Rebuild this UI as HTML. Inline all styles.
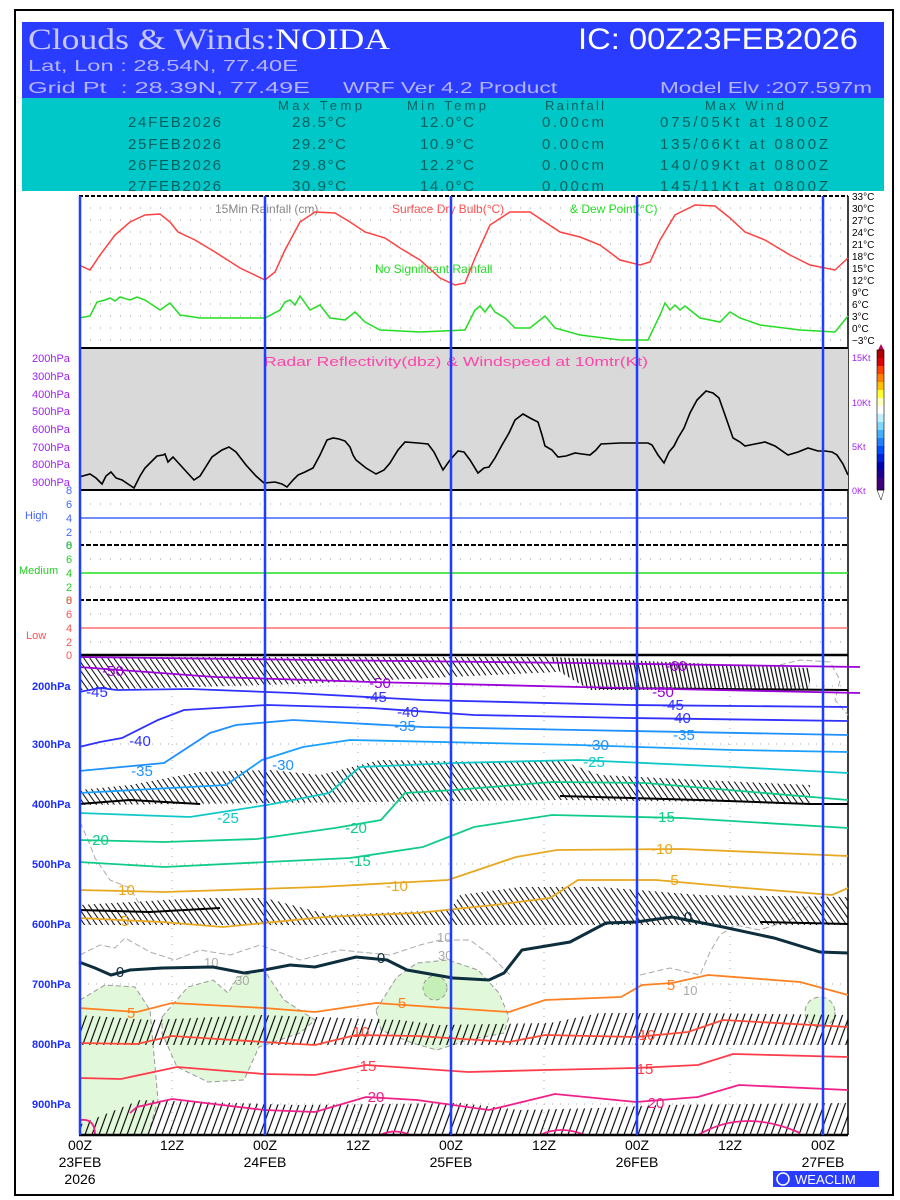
<!DOCTYPE html>
<html><head><meta charset="utf-8"><style>
html,body{margin:0;padding:0;background:#fff;width:900px;height:1200px;overflow:hidden}
svg{display:block}
text{font-family:"Liberation Sans",sans-serif}
</style></head><body>
<svg width="900" height="1200" viewBox="0 0 900 1200" xmlns="http://www.w3.org/2000/svg">
<defs>
<pattern id="bs" patternUnits="userSpaceOnUse" width="6" height="12" patternTransform="skewX(35)"><line x1="1" y1="0" x2="1" y2="12" stroke="#000" stroke-width="1.2"/></pattern>
<pattern id="bv" patternUnits="userSpaceOnUse" width="4" height="12" patternTransform="skewX(12)"><line x1="1" y1="0" x2="1" y2="12" stroke="#000" stroke-width="1.2"/></pattern>
<pattern id="bf" patternUnits="userSpaceOnUse" width="7" height="12" patternTransform="skewX(-20)"><line x1="1" y1="0" x2="1" y2="12" stroke="#000" stroke-width="1.2"/></pattern>
</defs>
<rect x="15" y="10" width="878" height="1185" fill="none" stroke="#000" stroke-width="2"/>
<rect x="22" y="22" width="862" height="76" fill="#2a3cff"/>
<text x="28" y="49" font-size="30" fill="#c8c8ff" style="font-family:'Liberation Serif',serif" textLength="362" lengthAdjust="spacingAndGlyphs">Clouds &amp; Winds:<tspan fill="#fff">NOIDA</tspan></text>
<text x="578" y="49" font-size="30" fill="#fff" textLength="280" lengthAdjust="spacingAndGlyphs">IC: 00Z23FEB2026</text>
<text x="28" y="71" font-size="16" fill="#b4b4ff" textLength="270" lengthAdjust="spacingAndGlyphs">Lat, Lon : 28.54N, 77.40E</text>
<text x="28" y="93" font-size="16" fill="#b4b4ff" xml:space="preserve" textLength="282" lengthAdjust="spacingAndGlyphs">Grid Pt  : 28.39N, 77.49E</text>
<text x="343" y="93" font-size="16" fill="#b4b4ff" textLength="214" lengthAdjust="spacingAndGlyphs">WRF Ver 4.2 Product</text>
<text x="660" y="93" font-size="16" fill="#b4b4ff" textLength="212" lengthAdjust="spacingAndGlyphs">Model Elv :207.597m</text>
<rect x="22" y="98" width="862" height="93" fill="#00c8c8"/>
<g font-size="15" fill="#006060" lengthAdjust="spacingAndGlyphs">
<text x="278" y="110" font-size="13" textLength="84">Max Temp</text><text x="407" y="110" font-size="13" textLength="79">Min Temp</text><text x="545" y="110" font-size="13" textLength="59">Rainfall</text><text x="705" y="110" font-size="13" textLength="79">Max Wind</text>
<text x="128" y="127" textLength="93">24FEB2026</text><text x="292" y="127" textLength="54">28.5°C</text><text x="420" y="127" textLength="54">12.0°C</text><text x="542" y="127" textLength="62">0.00cm</text><text x="660" y="127" textLength="168">075/05Kt at 1800Z</text>
<text x="128" y="149" textLength="93">25FEB2026</text><text x="292" y="149" textLength="54">29.2°C</text><text x="420" y="149" textLength="54">10.9°C</text><text x="542" y="149" textLength="62">0.00cm</text><text x="660" y="149" textLength="168">135/06Kt at 0800Z</text>
<text x="128" y="170" textLength="93">26FEB2026</text><text x="292" y="170" textLength="54">29.8°C</text><text x="420" y="170" textLength="54">12.2°C</text><text x="542" y="170" textLength="62">0.00cm</text><text x="660" y="170" textLength="168">140/09Kt at 0800Z</text>
<text x="128" y="191" textLength="93">27FEB2026</text><text x="292" y="191" textLength="54">30.9°C</text><text x="420" y="191" textLength="54">14.0°C</text><text x="542" y="191" textLength="62">0.00cm</text><text x="660" y="191" textLength="168">145/11Kt at 0800Z</text>
</g>
<rect x="22" y="191" width="862" height="4" fill="#fff"/>

<g stroke="#999" stroke-width="1" stroke-dasharray="1,9">
<line x1="80" y1="208" x2="848" y2="208"/><line x1="80" y1="220" x2="848" y2="220"/><line x1="80" y1="232" x2="848" y2="232"/><line x1="80" y1="244" x2="848" y2="244"/><line x1="80" y1="256" x2="848" y2="256"/><line x1="80" y1="268" x2="848" y2="268"/><line x1="80" y1="280" x2="848" y2="280"/><line x1="80" y1="292" x2="848" y2="292"/><line x1="80" y1="304" x2="848" y2="304"/><line x1="80" y1="316" x2="848" y2="316"/><line x1="80" y1="328" x2="848" y2="328"/><line x1="80" y1="340" x2="848" y2="340"/>
</g>
<line x1="79" y1="196" x2="848" y2="196" stroke="#000" stroke-width="2" stroke-dasharray="4,2"/>
<line x1="848" y1="196" x2="848" y2="1135" stroke="#000" stroke-width="1.5"/>
<text x="215" y="213" font-size="12" fill="#888">15Min Rainfall (cm)</text>
<text x="392" y="213" font-size="12" fill="#ff5050">Surface Dry Bulb(°C)</text>
<text x="570" y="213" font-size="12" fill="#22dd22">&amp; Dew Point(°C)</text>
<text x="375" y="273" font-size="12" fill="#22dd22">No Significant Rainfall</text>
<polyline fill="none" stroke="#ff4040" stroke-width="1.5" points="79,265 90,270 100,255 115,235 130,222 145,215 160,214 170,222 178,232 195,240 215,252 240,268 265,280 275,272 285,250 300,222 315,212 335,213 350,222 365,232 385,238 400,248 420,260 440,278 455,285 465,283 475,258 490,225 510,212 530,212 545,222 560,232 580,237 600,245 620,260 640,265 650,262 660,240 675,215 695,205 715,206 730,218 745,232 765,240 790,255 810,265 835,270 848,258"/>
<polyline fill="none" stroke="#22dd22" stroke-width="1.5" points="79,318 90,316 97,302 105,300 110,298 115,301 120,297 130,300 137,297 145,300 160,310 170,303 180,315 200,318 230,318 265,318 280,310 285,302 290,300 295,305 300,296 310,310 320,305 330,318 345,320 355,312 365,322 380,330 420,332 465,330 475,310 480,306 485,312 490,305 495,312 505,318 515,328 530,328 545,316 555,328 580,335 620,340 648,340 660,315 665,303 670,310 675,305 680,310 685,306 700,318 720,322 730,312 740,318 760,325 800,330 835,332 848,316"/>
<g font-size="10" fill="#000" style="font-family:'Liberation Serif',serif">
<text x="852" y="200">33°C</text><text x="852" y="212">30°C</text><text x="852" y="224">27°C</text><text x="852" y="236">24°C</text><text x="852" y="248">21°C</text><text x="852" y="260">18°C</text><text x="852" y="272">15°C</text><text x="852" y="284">12°C</text><text x="852" y="296">9°C</text><text x="852" y="308">6°C</text><text x="852" y="320">3°C</text><text x="852" y="332">0°C</text><text x="852" y="344">−3°C</text>
</g>

<rect x="79" y="348" width="769" height="142" fill="#d9d9d9"/>
<line x1="79" y1="348" x2="848" y2="348" stroke="#000" stroke-width="2"/>
<line x1="79" y1="490" x2="848" y2="490" stroke="#000" stroke-width="2"/>
<text x="264" y="366" font-size="13" fill="#ff44aa" textLength="384" lengthAdjust="spacingAndGlyphs">Radar Reflectivity(dbz) &amp; Windspeed at 10mtr(Kt)</text>
<polyline fill="none" stroke="#000" stroke-width="1.6" points="79,477 90,474 96,478 102,484 106,476 111,472 116,478 122,480 128,484 134,488 140,476 145,468 151,462 157,456 163,455 165,454 168,462 173,457 183,468 194,480 200,476 212,457 222,450 229,447 236,452 246,465 256,476 264,483 275,482 282,484 287,487 293,480 298,475 305,472 313,468 320,455 327,440 333,438 339,439 345,441 350,447 353,455 356,460 366,468 376,474 384,470 390,463 398,450 405,442 418,443 428,444 434,452 443,470 450,460 458,451 464,452 470,460 478,473 484,468 489,467 495,458 502,445 509,433 515,420 523,414 530,418 538,422 542,435 545,446 552,450 558,457 566,456 575,453 582,454 590,455 596,450 601,444 620,443 638,443 648,443 652,445 658,455 664,463 669,452 674,446 678,438 684,428 690,413 697,400 706,391 713,393 719,398 725,415 733,438 740,442 745,446 755,444 765,442 775,446 788,455 798,452 808,448 818,451 825,451 832,452 837,455 843,464 848,475"/>
<g font-size="11" fill="#a020f0">
<text x="32" y="362">200hPa</text><text x="32" y="380">300hPa</text><text x="32" y="398">400hPa</text><text x="32" y="415">500hPa</text><text x="32" y="433">600hPa</text><text x="32" y="451">700hPa</text><text x="32" y="468">800hPa</text><text x="32" y="486">900hPa</text>
</g>
<g font-size="9" fill="#a020f0">
<text x="852" y="361">15Kt</text><text x="852" y="406">10Kt</text><text x="852" y="450">5Kt</text><text x="852" y="494">0Kt</text>
</g>
<g>
<polygon points="878,350 881,344 884,350" fill="#c00050"/>
<rect x="877" y="350" width="7" height="8" fill="#b00000"/><rect x="877" y="358" width="7" height="8" fill="#e00000"/><rect x="877" y="366" width="7" height="8" fill="#ff4000"/><rect x="877" y="374" width="7" height="8" fill="#ff8000"/><rect x="877" y="382" width="7" height="8" fill="#ffc000"/><rect x="877" y="390" width="7" height="8" fill="#ffff30"/><rect x="877" y="398" width="7" height="8" fill="#ffffc0"/><rect x="877" y="406" width="7" height="8" fill="#ffffff"/><rect x="877" y="414" width="7" height="8" fill="#c0f0ff"/><rect x="877" y="422" width="7" height="8" fill="#80d8ff"/><rect x="877" y="430" width="7" height="8" fill="#40b0ff"/><rect x="877" y="438" width="7" height="8" fill="#2080ff"/><rect x="877" y="446" width="7" height="8" fill="#0050ff"/><rect x="877" y="454" width="7" height="8" fill="#0020e0"/><rect x="877" y="462" width="7" height="8" fill="#0000b0"/><rect x="877" y="470" width="7" height="8" fill="#200090"/><rect x="877" y="478" width="7" height="12" fill="#400080"/>
<polygon points="877,490 881,500 884,490" fill="#fff" stroke="#000" stroke-width="0.5"/>
<rect x="877" y="350" width="7" height="140" fill="none" stroke="#000" stroke-width="0.6"/>
</g>

<g stroke="#999" stroke-dasharray="1,9">
<line x1="80" y1="504" x2="848" y2="504"/><line x1="80" y1="532" x2="848" y2="532"/>
<line x1="80" y1="559" x2="848" y2="559"/><line x1="80" y1="587" x2="848" y2="587"/>
<line x1="80" y1="614" x2="848" y2="614"/><line x1="80" y1="642" x2="848" y2="642"/>
</g>
<line x1="79" y1="518" x2="848" y2="518" stroke="#4466ff" stroke-width="1.5"/>
<line x1="79" y1="573" x2="848" y2="573" stroke="#22dd22" stroke-width="1.5"/>
<line x1="79" y1="628" x2="848" y2="628" stroke="#ff5050" stroke-width="1.2"/>
<line x1="79" y1="545" x2="848" y2="545" stroke="#000" stroke-width="2" stroke-dasharray="5,2"/>
<line x1="79" y1="600" x2="848" y2="600" stroke="#000" stroke-width="2" stroke-dasharray="5,2"/>
<g font-size="11">
<g fill="#4466ff"><text x="66" y="494">8</text><text x="66" y="508">6</text><text x="66" y="522">4</text><text x="66" y="536">2</text><text x="66" y="549">0</text><text x="25" y="519">High</text></g>
<g fill="#22cc22"><text x="66" y="549">8</text><text x="66" y="563">6</text><text x="66" y="577">4</text><text x="66" y="591">2</text><text x="66" y="604">0</text><text x="19" y="574">Medium</text></g>
<g fill="#ff5050"><text x="66" y="604">8</text><text x="66" y="618">6</text><text x="66" y="632">4</text><text x="66" y="646">2</text><text x="66" y="659">0</text><text x="26" y="639">Low</text></g>
</g>

<g stroke="#aaa" stroke-dasharray="1,7">
<line x1="80" y1="686" x2="848" y2="686"/><line x1="80" y1="744" x2="848" y2="744"/><line x1="80" y1="804" x2="848" y2="804"/><line x1="80" y1="864" x2="848" y2="864"/><line x1="80" y1="924" x2="848" y2="924"/><line x1="80" y1="984" x2="848" y2="984"/><line x1="80" y1="1044" x2="848" y2="1044"/><line x1="80" y1="1104" x2="848" y2="1104"/>
<line x1="172" y1="656" x2="172" y2="1135"/><line x1="358" y1="656" x2="358" y2="1135"/><line x1="544" y1="656" x2="544" y2="1135"/><line x1="730" y1="656" x2="730" y2="1135"/>
</g>
<g fill="#e2f8da" stroke="#999" stroke-dasharray="5,3" stroke-width="1">
<polygon points="80,1000 105,985 135,987 150,1010 158,1100 148,1135 80,1135"/>
<polygon points="162,1017 188,987 213,980 228,993 238,977 264,970 284,1000 315,1020 300,1033 259,1047 244,1080 208,1082 177,1067 162,1033"/>
<polygon points="376,1010 397,977 417,963 448,960 478,970 499,993 509,1017 504,1033 468,1040 437,1050 412,1043 381,1030"/>
<circle cx="820" cy="1012" r="15"/>
</g>
<circle cx="435" cy="988" r="12" fill="#c4f0b8" stroke="#999" stroke-dasharray="4,3"/>
<g fill="none" stroke="#aaa" stroke-dasharray="6,3">
<path d="M80,955 L100,945 115,948 125,938 150,952 175,960 200,950 230,955 260,945 300,960 340,950 390,955 420,945 440,940 470,940 490,955 510,975"/>
<path d="M640,975 L670,968 700,975 710,952 720,935 735,925 760,930 790,920 810,905"/>
<path d="M80,822 L88,840 95,858 110,880 130,888 140,905"/>
<path d="M780,665 L800,660 830,662 840,680 835,700 848,715"/>
</g>
<text x="437" y="942" font-size="13" fill="#aaa">10</text>
<text x="438" y="960" font-size="13" fill="#aaa">30</text>
<text x="204" y="967" font-size="13" fill="#aaa">10</text>
<text x="235" y="985" font-size="13" fill="#aaa">30</text>
<text x="683" y="995" font-size="13" fill="#aaa">10</text>

<polygon fill="url(#bs)" points="79,657 550,657 556,672 300,684 79,690"/>
<polygon fill="url(#bv)" points="550,657 810,668 810,690 590,690 560,672"/>
<polygon fill="url(#bs)" points="79,790 130,785 200,772 270,770 320,775 380,760 500,762 560,760 600,775 700,780 810,785 810,803 560,800 79,805"/>
<polygon fill="url(#bs)" points="79,905 200,898 265,898 330,915 450,910 460,895 520,887 600,887 700,895 848,897 848,925 79,925"/>
<polygon fill="url(#bf)" points="79,1015 150,1020 260,1015 400,1020 440,1025 550,1023 600,1013 700,1013 848,1015 848,1045 79,1045"/>
<polygon fill="url(#bf)" points="79,1125 140,1100 300,1105 460,1103 520,1110 600,1108 660,1105 848,1103 848,1135 79,1135"/>
<g stroke="#000" stroke-width="2" fill="none">
<polyline points="79,804 130,800 200,804"/><polyline points="560,796 700,800 810,804 848,804"/>
<polyline points="79,910 150,912 220,908"/><polyline points="760,922 848,924"/>
<polyline points="600,688 848,690"/>
</g>

<g fill="none" stroke-width="1.8">
<polyline stroke="#9b00d6" points="79,657 319,660 578,663 860,667"/>
<polyline stroke="#9b00d6" points="79,667 215,677 371,682 578,687 860,693"/>
<polyline stroke="#3030ff" points="79,692 100,688 117,690 190,689 293,693 423,700 630,705 848,707"/>
<polyline stroke="#3030ff" points="79,747 100,742 122,738 158,720 184,710 267,705 371,708 474,715 630,718 848,721"/>
<polyline stroke="#1e90ff" points="79,771 164,763 210,733 236,725 293,720 423,727 578,730 848,735"/>
<polyline stroke="#1aa0ff" points="79,793 226,785 262,760 303,747 350,740 578,745 733,750 848,752"/>
<polyline stroke="#10c8c8" points="79,813 190,817 267,805 329,793 360,767 454,763 578,760 733,767 848,773"/>
<polyline stroke="#10cc88" points="79,840 164,842 257,839 335,828 381,820 405,793 454,790 552,782 645,783 848,800"/>
<polyline stroke="#10cc88" points="79,862 164,867 267,862 350,858 423,847 474,827 552,815 682,818 848,828"/>
<polyline stroke="#e8a820" points="79,890 164,892 319,887 448,880 516,857 557,850 682,849 848,856"/>
<polyline stroke="#e8a820" points="79,918 162,922 223,927 325,917 417,913 494,905 550,898 578,880 656,880 733,887 832,895 848,888"/>
<polyline stroke="#0d2e3c" stroke-width="3" points="79,962 95,968 111,975 130,970 162,968 213,967 244,973 264,970 290,965 315,967 356,957 387,960 407,970 453,978 489,980 504,973 522,950 570,942 606,923 636,922 672,917 723,927 774,938 820,952 848,953"/>
<polyline stroke="#ff8020" points="79,1008 137,1012 172,1003 264,1008 315,1012 376,1003 448,1008 509,1012 545,1000 621,997 642,985 672,983 708,975 800,982 848,995"/>
<polyline stroke="#ff4a3a" points="79,1043 137,1044 172,1036 264,1042 315,1045 356,1035 417,1036 509,1042 545,1035 636,1037 688,1032 723,1020 848,1027"/>
<polyline stroke="#ff3b4b" points="79,1078 121,1079 177,1067 264,1074 315,1075 366,1065 468,1072 545,1070 636,1068 698,1065 733,1054 848,1057"/>
<polyline stroke="#f0208a" points="130,1113 137,1107 172,1099 264,1110 315,1112 366,1097 417,1100 489,1110 555,1094 636,1102 698,1097 739,1085 848,1090"/>
<path stroke="#f0208a" d="M698,1135 Q744,1108 800,1133 M380,1135 Q395,1128 410,1135 M540,1135 Q560,1125 585,1135 M80,1120 Q95,1118 95,1135"/>
</g>
<g font-size="15" text-anchor="middle">
<g fill="#9b00d6"><text x="113" y="676">-50</text><text x="380" y="688">-50</text><text x="663" y="697">-50</text><text x="676" y="671">-60</text></g>
<g fill="#3030ff"><text x="97" y="697">-45</text><text x="376" y="702">-45</text><text x="673" y="710">-45</text><text x="140" y="746">-40</text><text x="408" y="717">-40</text><text x="680" y="723">-40</text></g>
<g fill="#1e90ff"><text x="142" y="776">-35</text><text x="405" y="731">-35</text><text x="684" y="740">-35</text><text x="283" y="770">-30</text><text x="598" y="750">-30</text></g>
<g fill="#10c8c8"><text x="228" y="823">-25</text><text x="594" y="767">-25</text></g>
<g fill="#10cc88"><text x="98" y="845">-20</text><text x="356" y="833">-20</text><text x="360" y="866">-15</text><text x="664" y="822">-15</text></g>
<g fill="#e8a820"><text x="124" y="895">-10</text><text x="397" y="891">-10</text><text x="662" y="854">-10</text><text x="672" y="885">-5</text><text x="125" y="926">5</text></g>
<g fill="#0d2e3c"><text x="120" y="977">0</text><text x="381" y="963">0</text><text x="688" y="922">0</text></g>
<g fill="#ff8020"><text x="131" y="1018">5</text><text x="402" y="1008">5</text><text x="671" y="990">5</text></g>
<g fill="#ff4a3a"><text x="361" y="1037">10</text><text x="647" y="1040">10</text></g>
<g fill="#ff3b4b"><text x="368" y="1071">15</text><text x="645" y="1074">15</text></g>
<g fill="#f0208a"><text x="376" y="1102">20</text><text x="656" y="1108">20</text></g>
</g>

<line x1="79" y1="655" x2="848" y2="655" stroke="#000" stroke-width="2.5"/>
<line x1="79" y1="1135" x2="848" y2="1135" stroke="#000" stroke-width="2.5"/>
<g font-size="11" fill="#1a2cff" font-weight="bold">
<text x="32" y="690">200hPa</text><text x="32" y="748">300hPa</text><text x="32" y="808">400hPa</text><text x="32" y="868">500hPa</text><text x="32" y="928">600hPa</text><text x="32" y="988">700hPa</text><text x="32" y="1048">800hPa</text><text x="32" y="1108">900hPa</text>
</g>

<g stroke="#1f3cff" stroke-width="2.5">
<line x1="80" y1="196" x2="80" y2="1135"/><line x1="265" y1="196" x2="265" y2="1135"/><line x1="451" y1="196" x2="451" y2="1135"/><line x1="637" y1="196" x2="637" y2="1135"/><line x1="823" y1="196" x2="823" y2="1135"/>
</g>

<g font-size="14" fill="#000" text-anchor="middle" style="font-family:'Liberation Sans Narrow','Liberation Sans',sans-serif">
<text x="80" y="1150">00Z</text><text x="80" y="1167">23FEB</text><text x="80" y="1184">2026</text>
<text x="172" y="1150">12Z</text>
<text x="265" y="1150">00Z</text><text x="265" y="1167">24FEB</text>
<text x="358" y="1150">12Z</text>
<text x="451" y="1150">00Z</text><text x="451" y="1167">25FEB</text>
<text x="544" y="1150">12Z</text>
<text x="637" y="1150">00Z</text><text x="637" y="1167">26FEB</text>
<text x="730" y="1150">12Z</text>
<text x="823" y="1150">00Z</text><text x="823" y="1167">27FEB</text>
</g>
<rect x="773" y="1171" width="106" height="16" fill="#2a3cff"/>
<circle cx="783" cy="1179" r="6" fill="none" stroke="#fff" stroke-width="1.5"/>
<text x="795" y="1184" font-size="13" fill="#fff">WEACLIM</text>
</svg>
</body></html>
